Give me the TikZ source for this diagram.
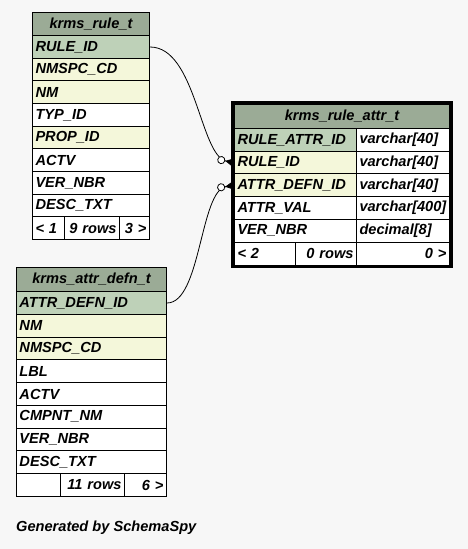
\documentclass[tikz,border=0pt]{standalone}
\usepackage{fontspec}
\setmainfont{Liberation Sans}
\usetikzlibrary{arrows.meta}
\definecolor{hdcol}{HTML}{9BAB96}
\definecolor{pkcol}{HTML}{BED1B8}
\definecolor{ixcol}{HTML}{F4F7DA}
\definecolor{bgcol}{HTML}{F7F7F7}
\begin{document}
\begin{tikzpicture}[x=1pt,y=-1pt,every node/.style={font=\fontsize{14.6}{16}\selectfont\bfseries\itshape},
 cell/.style={draw,fill=white,line width=1pt,anchor=north west,minimum height=23pt,inner xsep=3pt,inner ysep=0pt,align=left},
 head/.style={cell,fill=hdcol,align=center},foot/.style={cell,align=right},
 link/.style={line width=0.8pt,-{Circle[open,fill=white,length=8pt,width=8pt] Triangle[reversed,length=9pt,width=9pt]}}]
\fill[bgcol] (0,0) rectangle (468,549);\useasboundingbox (0,0) rectangle (468,549);
% krms_rule_t
\node[head,text width=111pt] (r-head) at (32,12){krms\_rule\_t};
\node[cell,fill=pkcol,text width=111pt] (r-id) at (32,35){RULE\_ID};
\node[cell,fill=ixcol,text width=111pt] (r-nmspc) at (32,57.5){NMSPC\_CD};
\node[cell,fill=ixcol,text width=111pt] (r-nm) at (32,80.3){NM};
\node[cell,text width=111pt] (r-typ) at (32,103){TYP\_ID};
\node[cell,fill=ixcol,text width=111pt] (r-prop) at (32,125.7){PROP\_ID};
\node[cell,text width=111pt] (r-actv) at (32,148.4){ACTV};
\node[cell,text width=111pt] (r-ver) at (32,171){VER\_NBR};
\node[cell,text width=111pt] (r-desc) at (32,193.6){DESC\_TXT};
\node[cell,text width=26pt] (r-prev) at (32,216.3){< 1};\node[foot,text width=49pt] (r-rows) at (64,216.3){9 rows};\node[foot,text width=24pt] (r-next) at (119,216.3){3 >};
% krms_rule_attr_t
\node[head,text width=209pt,minimum height=24pt] (a-head) at (234,104){krms\_rule\_attr\_t};
\node[cell,fill=pkcol,text width=116pt] (a-id) at (234,128){RULE\_ATTR\_ID};\node[cell,text width=87pt] (a-id-t) at (356,128){varchar[40]};
\node[cell,fill=ixcol,text width=116pt] (a-rule) at (234,150.7){RULE\_ID};\node[cell,text width=87pt] (a-rule-t) at (356,150.7){varchar[40]};
\node[cell,fill=ixcol,text width=116pt] (a-defn) at (234,173.4){ATTR\_DEFN\_ID};\node[cell,text width=87pt] (a-defn-t) at (356,173.4){varchar[40]};
\node[cell,text width=116pt] (a-val) at (234,196.1){ATTR\_VAL};\node[cell,text width=87pt] (a-val-t) at (356,196.1){varchar[400]};
\node[cell,text width=116pt] (a-ver) at (234,218.8){VER\_NBR};\node[cell,text width=87pt] (a-ver-t) at (356,218.8){decimal[8]};
\node[cell,text width=55pt] (a-prev) at (234,241.5){< 2};\node[foot,text width=55pt] (a-rows) at (295,241.5){0 rows};\node[foot,text width=87pt] (a-next) at (356,241.5){0 >};
\draw[line width=3pt] (232.5,102.5) rectangle (451.5,266.5);
% krms_attr_defn_t
\node[head,text width=144pt,minimum height=24pt] (d-head) at (16,267){krms\_attr\_defn\_t};
\node[cell,fill=pkcol,text width=144pt] (d-id) at (16,291){ATTR\_DEFN\_ID};
\node[cell,fill=ixcol,text width=144pt] (d-nm) at (16,313.75){NM};
\node[cell,fill=ixcol,text width=144pt] (d-nmspc) at (16,336.5){NMSPC\_CD};
\node[cell,text width=144pt] (d-lbl) at (16,359.25){LBL};
\node[cell,text width=144pt] (d-actv) at (16,382){ACTV};
\node[cell,text width=144pt] (d-cmpnt) at (16,404.75){CMPNT\_NM};
\node[cell,text width=144pt] (d-ver) at (16,427.5){VER\_NBR};
\node[cell,text width=144pt] (d-desc) at (16,450.25){DESC\_TXT};
\node[cell,text width=38pt] (d-prev) at (16,473){};\node[foot,text width=58pt] (d-rows) at (60,473){11 rows};\node[foot,text width=36pt] (d-next) at (124,473){6 >};
% links
\draw[link] (r-id.east) .. controls +(46,0) and +(-34,-7) .. (a-rule.west);
\draw[link] (d-id.east) .. controls +(34,0) and +(-34,5) .. (a-defn.west);
\node[anchor=west,inner sep=0pt] (credit) at (16,528){Generated by SchemaSpy};
\end{tikzpicture}
\end{document}
